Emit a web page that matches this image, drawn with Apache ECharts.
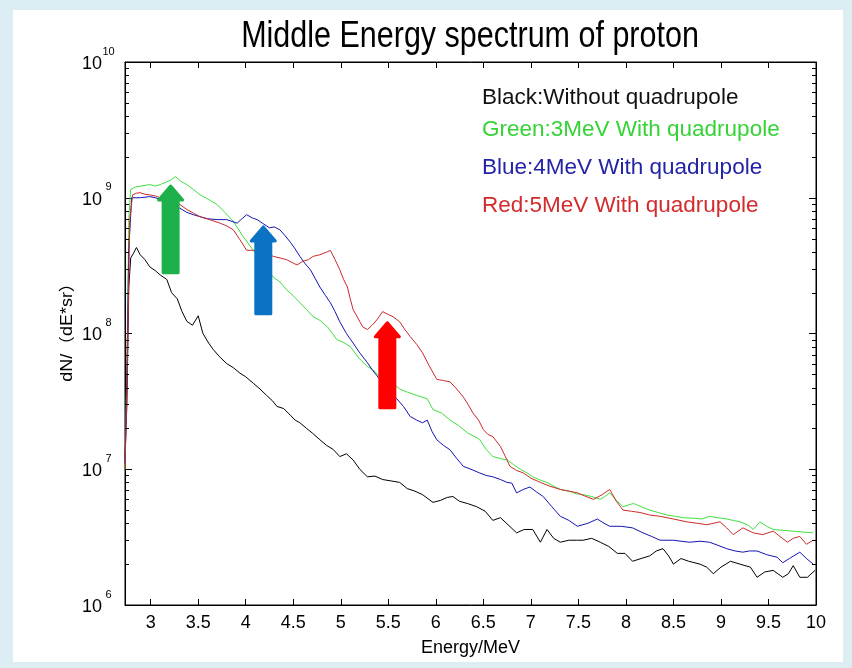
<!DOCTYPE html>
<html>
<head>
<meta charset="utf-8">
<script src="https://cdn.jsdelivr.net/npm/echarts@6/dist/echarts.min.js"></script>
<style>
  html, body { margin: 0; padding: 0; background: #dceef3; }
  #chart { width: 852px; height: 668px; }
</style>
</head>
<body>
<div id="chart"></div>
<script>
// tick labels
const xTicks = [3, 3.5, 4, 4.5, 5, 5.5, 6, 6.5, 7, 7.5, 8, 8.5, 9, 9.5, 10];
const minorMult = [2, 3, 4, 5, 6, 7, 8, 9];
const decades = [1e6, 1e7, 1e8, 1e9];

// Black: without quadrupole
const blackE = [2.73, 2.75, 2.77, 2.79, 2.82, 2.85, 2.89, 2.94, 2.99, 3.05, 3.10, 3.17, 3.22, 3.28, 3.33, 3.38, 3.44, 3.50, 3.55, 3.61, 3.66, 3.72, 3.80, 3.87, 3.94, 4.00, 4.08, 4.15, 4.22, 4.28, 4.33, 4.40, 4.47, 4.52, 4.57, 4.64, 4.70, 4.78, 4.85, 4.92, 4.99, 5.06, 5.13, 5.20, 5.28, 5.36, 5.44, 5.53, 5.62, 5.70, 5.78, 5.86, 5.97, 6.05, 6.12, 6.18, 6.25, 6.33, 6.43, 6.52, 6.60, 6.68, 6.76, 6.85, 6.93, 7.02, 7.10, 7.17, 7.24, 7.31, 7.40, 7.48, 7.55, 7.64, 7.73, 7.82, 7.91, 7.99, 8.07, 8.16, 8.25, 8.32, 8.39, 8.45, 8.50, 8.58, 8.66, 8.78, 8.85, 8.92, 9.00, 9.10, 9.20, 9.31, 9.38, 9.46, 9.55, 9.65, 9.71, 9.76, 9.83, 9.91, 9.99];
const blackN = [1.2e7, 3.0e7, 2.2e8, 3.6e8, 3.9e8, 4.3e8, 3.8e8, 3.5e8, 3.1e8, 2.9e8, 2.7e8, 2.5e8, 2.0e8, 1.8e8, 1.45e8, 1.23e8, 1.15e8, 1.35e8, 1.0e8, 8.5e7, 7.6e7, 6.8e7, 6.0e7, 5.6e7, 5.1e7, 4.8e7, 4.3e7, 3.9e7, 3.5e7, 3.2e7, 2.9e7, 2.8e7, 2.5e7, 2.3e7, 2.2e7, 2.0e7, 1.85e7, 1.65e7, 1.5e7, 1.4e7, 1.24e7, 1.3e7, 1.17e7, 1.0e7, 8.8e6, 8.9e6, 8.4e6, 8.2e6, 8.0e6, 7.2e6, 6.9e6, 6.5e6, 5.7e6, 5.9e6, 6.2e6, 6.3e6, 5.8e6, 5.6e6, 5.3e6, 4.9e6, 4.2e6, 4.4e6, 3.9e6, 3.4e6, 3.6e6, 3.6e6, 2.9e6, 3.6e6, 3.1e6, 2.9e6, 3.0e6, 3.0e6, 3.0e6, 3.1e6, 2.9e6, 2.7e6, 2.4e6, 2.4e6, 2.1e6, 2.2e6, 2.3e6, 2.5e6, 2.6e6, 2.3e6, 2.0e6, 2.2e6, 2.1e6, 2.0e6, 1.9e6, 1.7e6, 1.9e6, 2.1e6, 2.0e6, 1.9e6, 1.6e6, 1.75e6, 1.8e6, 1.6e6, 1.7e6, 1.95e6, 1.6e6, 1.6e6, 1.8e6];

// Green: 3MeV with quadrupole
const greenE = [2.73, 2.75, 2.77, 2.79, 2.84, 2.90, 2.99, 3.05, 3.10, 3.17, 3.22, 3.26, 3.32, 3.38, 3.45, 3.52, 3.60, 3.70, 3.78, 3.87, 3.97, 4.08, 4.18, 4.29, 4.36, 4.43, 4.50, 4.57, 4.64, 4.71, 4.78, 4.86, 4.96, 5.03, 5.10, 5.19, 5.28, 5.34, 5.41, 5.48, 5.55, 5.62, 5.70, 5.80, 5.91, 5.97, 6.06, 6.15, 6.24, 6.33, 6.40, 6.46, 6.53, 6.60, 6.68, 6.75, 6.82, 6.89, 6.96, 7.02, 7.10, 7.17, 7.24, 7.31, 7.40, 7.48, 7.55, 7.64, 7.73, 7.78, 7.83, 7.90, 7.97, 8.08, 8.16, 8.25, 8.34, 8.43, 8.52, 8.60, 8.72, 8.80, 8.88, 8.96, 9.06, 9.13, 9.20, 9.28, 9.34, 9.41, 9.48, 9.55, 9.65, 9.76, 9.86, 9.97];
const greenN = [1.0e7, 6e7, 7e8, 1.15e9, 1.2e9, 1.22e9, 1.25e9, 1.22e9, 1.25e9, 1.31e9, 1.36e9, 1.43e9, 1.32e9, 1.25e9, 1.15e9, 1.05e9, 9.8e8, 8.9e8, 7.8e8, 6.7e8, 5.2e8, 4.1e8, 3.3e8, 2.6e8, 2.4e8, 2.1e8, 1.9e8, 1.69e8, 1.5e8, 1.33e8, 1.25e8, 1.12e8, 9.0e7, 8.6e7, 8.0e7, 6.6e7, 5.7e7, 5.4e7, 4.8e7, 4.6e7, 4.3e7, 3.9e7, 3.7e7, 3.5e7, 3.3e7, 2.75e7, 2.6e7, 2.3e7, 2.1e7, 1.86e7, 1.75e7, 1.66e7, 1.4e7, 1.24e7, 1.2e7, 1.17e7, 1.08e7, 1.0e7, 9.4e6, 8.8e6, 8.3e6, 8.0e6, 7.5e6, 7.1e6, 6.9e6, 6.6e6, 6.5e6, 6.3e6, 6.0e6, 6.3e6, 6.7e6, 5.9e6, 5.3e6, 5.6e6, 5.3e6, 5.0e6, 4.8e6, 4.6e6, 4.5e6, 4.4e6, 4.35e6, 4.3e6, 4.5e6, 4.4e6, 4.3e6, 4.2e6, 4.1e6, 3.9e6, 3.6e6, 4.1e6, 3.8e6, 3.6e6, 3.55e6, 3.5e6, 3.45e6, 3.4e6];

// Blue: 4MeV with quadrupole
const blueE = [2.73, 2.75, 2.77, 2.80, 2.89, 2.99, 3.05, 3.10, 3.18, 3.28, 3.38, 3.45, 3.52, 3.60, 3.70, 3.80, 3.91, 3.96, 4.01, 4.07, 4.12, 4.19, 4.25, 4.30, 4.36, 4.41, 4.47, 4.52, 4.57, 4.62, 4.68, 4.73, 4.78, 4.84, 4.89, 4.94, 4.99, 5.06, 5.13, 5.20, 5.28, 5.34, 5.41, 5.50, 5.59, 5.66, 5.73, 5.80, 5.86, 5.91, 5.96, 6.01, 6.08, 6.15, 6.22, 6.29, 6.37, 6.46, 6.53, 6.60, 6.68, 6.75, 6.80, 6.85, 6.92, 6.99, 7.06, 7.13, 7.22, 7.31, 7.40, 7.49, 7.60, 7.70, 7.77, 7.83, 7.95, 8.07, 8.18, 8.27, 8.36, 8.50, 8.58, 8.67, 8.78, 8.88, 8.97, 9.06, 9.15, 9.23, 9.30, 9.38, 9.48, 9.59, 9.65, 9.72, 9.83, 9.90, 9.97];
const blueN = [1.1e7, 5e7, 4.2e8, 1.0e9, 1.0e9, 1.02e9, 1.0e9, 9.7e8, 9.3e8, 8.6e8, 7.8e8, 7.5e8, 7.25e8, 7.0e8, 6.9e8, 6.9e8, 6.5e8, 7.0e8, 7.5e8, 7.1e8, 6.9e8, 6.4e8, 6.0e8, 6.1e8, 5.8e8, 5.3e8, 4.7e8, 4.2e8, 3.7e8, 3.3e8, 2.95e8, 2.55e8, 2.2e8, 1.9e8, 1.69e8, 1.45e8, 1.22e8, 1.0e8, 8.5e7, 7.2e7, 6.1e7, 5.3e7, 4.6e7, 3.9e7, 3.3e7, 2.9e7, 2.45e7, 2.3e7, 2.2e7, 2.3e7, 1.9e7, 1.65e7, 1.5e7, 1.39e7, 1.2e7, 1.05e7, 1.0e7, 9.4e6, 9.0e6, 8.8e6, 8.4e6, 8.0e6, 7.9e6, 6.7e6, 7.1e6, 7.4e6, 6.8e6, 6.3e6, 5.3e6, 4.5e6, 4.2e6, 3.8e6, 4.0e6, 4.3e6, 4.0e6, 3.8e6, 3.8e6, 3.7e6, 3.4e6, 3.2e6, 3.0e6, 3.0e6, 2.95e6, 2.9e6, 2.95e6, 2.9e6, 2.75e6, 2.6e6, 2.5e6, 2.45e6, 2.5e6, 2.5e6, 2.35e6, 2.25e6, 2.05e6, 2.2e6, 2.45e6, 2.2e6, 2.0e6];

// Red: 5MeV with quadrupole
const redE = [2.73, 2.75, 2.78, 2.81, 2.85, 2.89, 2.94, 2.99, 3.05, 3.10, 3.18, 3.28, 3.38, 3.45, 3.52, 3.62, 3.73, 3.80, 3.87, 3.94, 4.01, 4.08, 4.15, 4.22, 4.29, 4.36, 4.43, 4.50, 4.54, 4.60, 4.66, 4.71, 4.78, 4.86, 4.89, 4.94, 4.99, 5.03, 5.07, 5.10, 5.13, 5.18, 5.23, 5.28, 5.33, 5.38, 5.44, 5.50, 5.55, 5.62, 5.67, 5.73, 5.80, 5.86, 5.93, 6.01, 6.08, 6.15, 6.22, 6.29, 6.34, 6.39, 6.45, 6.50, 6.55, 6.60, 6.68, 6.73, 6.78, 6.85, 6.92, 7.00, 7.10, 7.20, 7.31, 7.40, 7.49, 7.58, 7.66, 7.75, 7.83, 7.90, 7.97, 8.06, 8.15, 8.25, 8.36, 8.50, 8.64, 8.75, 8.85, 8.99, 9.06, 9.13, 9.23, 9.34, 9.44, 9.55, 9.62, 9.70, 9.76, 9.83, 9.90, 9.97];
const redN = [1.0e7, 4e7, 6.9e8, 1.05e9, 1.08e9, 1.09e9, 1.06e9, 1.05e9, 1.03e9, 1.0e9, 9.6e8, 9.2e8, 8.2e8, 7.7e8, 7.25e8, 6.9e8, 6.5e8, 6.2e8, 5.8e8, 4.9e8, 4.1e8, 4.1e8, 4.0e8, 3.9e8, 3.7e8, 3.6e8, 3.5e8, 3.3e8, 3.2e8, 3.4e8, 3.5e8, 3.7e8, 3.8e8, 4.0e8, 4.1e8, 3.5e8, 2.95e8, 2.5e8, 2.2e8, 1.8e8, 1.5e8, 1.3e8, 1.12e8, 1.07e8, 1.15e8, 1.26e8, 1.45e8, 1.38e8, 1.33e8, 1.22e8, 1.08e8, 9.5e7, 8.3e7, 7.2e7, 5.8e7, 4.6e7, 4.5e7, 4.4e7, 3.9e7, 3.4e7, 3.0e7, 2.6e7, 2.3e7, 1.96e7, 1.8e7, 1.74e7, 1.47e7, 1.25e7, 1.05e7, 9.8e6, 9.4e6, 8.6e6, 8.0e6, 7.5e6, 7.1e6, 6.9e6, 6.7e6, 6.3e6, 6.0e6, 6.5e6, 7.1e6, 5.8e6, 5.0e6, 4.9e6, 4.8e6, 4.6e6, 4.5e6, 4.3e6, 4.1e6, 4.0e6, 3.9e6, 4.1e6, 3.7e6, 3.3e6, 3.7e6, 3.4e6, 3.3e6, 3.5e6, 3.2e6, 2.9e6, 3.1e6, 3.2e6, 2.8e6, 3.0e6];

// annotation arrows: energy, tip value, tail value
const arrowE = [3.21, 4.185, 5.49];
const arrowTip = [1.22e9, 6.1e8, 1.2e8];
const arrowTail = [2.8e8, 1.4e8, 2.84e7];
const arrowColors = ['#1db04b', '#0b72c4', '#fe0000'];

const legendTexts = ['Black:Without quadrupole', 'Green:3MeV With quadrupole', 'Blue:4MeV With quadrupole', 'Red:5MeV With quadrupole'];
const legendColors = ['#111111', '#35d335', '#2323a8', '#d32b2b'];
const lineColors = ['#000000', '#3ee03e', '#1414b4', '#cc2a2a'];

const chart = echarts.init(document.getElementById('chart'));

const zip = (e, n) => e.map((v, i) => [v, n[i]]);
const minorTicks = [];
decades.forEach(d => minorMult.forEach(m => minorTicks.push([m * d])));

const baseFont = 'Liberation Sans, Arial, sans-serif';

function lineSeries(name, e, n, color) {
  return {
    name: name,
    type: 'line',
    data: zip(e, n),
    showSymbol: false,
    symbol: 'none',
    lineStyle: { color: color, width: 1 },
    itemStyle: { color: color },
    animation: false,
    z: 3
  };
}

const option = {
  backgroundColor: '#dceef3',
  animation: false,
  graphic: [
    { type: 'rect', left: 13, top: 10, shape: { width: 830, height: 652 }, style: { fill: '#ffffff' }, z: -10 },
    {
      // title, drawn a little taller than wide like the original
      type: 'text', x: 470, y: 37, scaleY: 1.24,
      style: { text: 'Middle Energy spectrum of proton', align: 'center', verticalAlign: 'middle', fill: '#000', font: '30.5px ' + baseFont },
      z: 10
    },
    {
      type: 'text', x: 68, y: 328, rotation: Math.PI / 2, scaleX: 1.12,
      style: { text: 'dN/（dE*sr）', align: 'center', verticalAlign: 'middle', fill: '#000', font: '16px ' + baseFont + ', Noto Sans CJK SC' },
      z: 10
    }
  ].concat(legendTexts.map((t, i) => ({
    type: 'text',
    left: 482,
    top: [98, 130, 168, 206][i] - 12,
    style: { text: t, fill: legendColors[i], font: '22.5px ' + baseFont },
    z: 10
  }))),
  grid: {
    left: 125, top: 62, right: 36, bottom: 63,
    show: true, backgroundColor: '#ffffff', borderColor: '#000', borderWidth: 1
  },
  xAxis: [
    {
      type: 'value', min: 2.73, max: 10, position: 'bottom',
      name: 'Energy/MeV', nameLocation: 'middle', nameGap: 34,
      nameTextStyle: { fontFamily: baseFont, fontSize: 18, color: '#000' },
      axisLine: { lineStyle: { color: '#000', width: 1 } },
      axisTick: { inside: true, length: 6, lineStyle: { color: '#000' }, customValues: xTicks },
      axisLabel: { customValues: xTicks, margin: 9, color: '#000', fontFamily: baseFont, fontSize: 18, formatter: v => String(v) },
      splitLine: { show: false }
    },
    {
      type: 'value', min: 2.73, max: 10, position: 'top',
      axisLine: { lineStyle: { color: '#000', width: 1 } },
      axisTick: { inside: true, length: 6, lineStyle: { color: '#000' }, customValues: xTicks },
      axisLabel: { show: false },
      splitLine: { show: false }
    }
  ],
  yAxis: [
    {
      type: 'log', logBase: 10, min: 1e6, max: 1e10, position: 'left',
      axisLine: { lineStyle: { color: '#000', width: 1 } },
      axisTick: { inside: true, length: 7, lineStyle: { color: '#000' } },
      axisLabel: {
        margin: 10,
        padding: [4, 0, 0, 0],
        formatter: v => '{b|10}{e|' + Math.round(Math.log10(v)) + '}',
        rich: {
          b: { fontFamily: baseFont, fontSize: 18, lineHeight: 18, color: '#000', verticalAlign: 'bottom' },
          e: { fontFamily: baseFont, fontSize: 11, lineHeight: 11, color: '#000', width: 13, align: 'left', padding: [0, 0, 16, 0], verticalAlign: 'bottom' }
        }
      },
      splitLine: { show: false }
    },
    {
      type: 'log', logBase: 10, min: 1e6, max: 1e10, position: 'right',
      axisLine: { lineStyle: { color: '#000', width: 1 } },
      axisTick: { inside: true, length: 7, lineStyle: { color: '#000' } },
      axisLabel: { show: false },
      splitLine: { show: false }
    }
  ],
  series: [
    lineSeries(legendTexts[0], blackE, blackN, lineColors[0]),
    lineSeries(legendTexts[1], greenE, greenN, lineColors[1]),
    lineSeries(legendTexts[2], blueE, blueN, lineColors[2]),
    lineSeries(legendTexts[3], redE, redN, lineColors[3]),
    {
      // minor log ticks on left and right frame
      type: 'custom',
      data: minorTicks,
      silent: true,
      clip: false,
      z: 4,
      encode: { y: 0 },
      renderItem: (params, api) => {
        const cs = params.coordSys;
        const p = api.coord([2.73, api.value(0)]);
        const y = Math.round(p[1]) + 0.5;
        return {
          type: 'group',
          children: [
            { type: 'line', shape: { x1: cs.x, y1: y, x2: cs.x + 4, y2: y }, style: { stroke: '#000', lineWidth: 1 } },
            { type: 'line', shape: { x1: cs.x + cs.width - 4, y1: y, x2: cs.x + cs.width, y2: y }, style: { stroke: '#000', lineWidth: 1 } }
          ]
        };
      }
    },
    {
      // annotation arrows
      type: 'custom',
      data: arrowE.map((e, i) => [e, arrowTip[i], arrowTail[i]]),
      silent: true,
      z: 5,
      renderItem: (params, api) => {
        const tip = api.coord([api.value(0), api.value(1)]);
        const tail = api.coord([api.value(0), api.value(2)]);
        const x = tip[0], hw = 12, sw = 7.5, hh = 14;
        const c = arrowColors[params.dataIndex];
        return {
          type: 'polygon',
          shape: {
            points: [
              [x, tip[1]], [x + hw, tip[1] + hh], [x + sw, tip[1] + hh], [x + sw, tail[1]],
              [x - sw, tail[1]], [x - sw, tip[1] + hh], [x - hw, tip[1] + hh]
            ]
          },
          style: { fill: c, stroke: c, lineWidth: 3, lineJoin: 'round' }
        };
      }
    }
  ]
};

chart.setOption(option);
</script>
</body>
</html>
